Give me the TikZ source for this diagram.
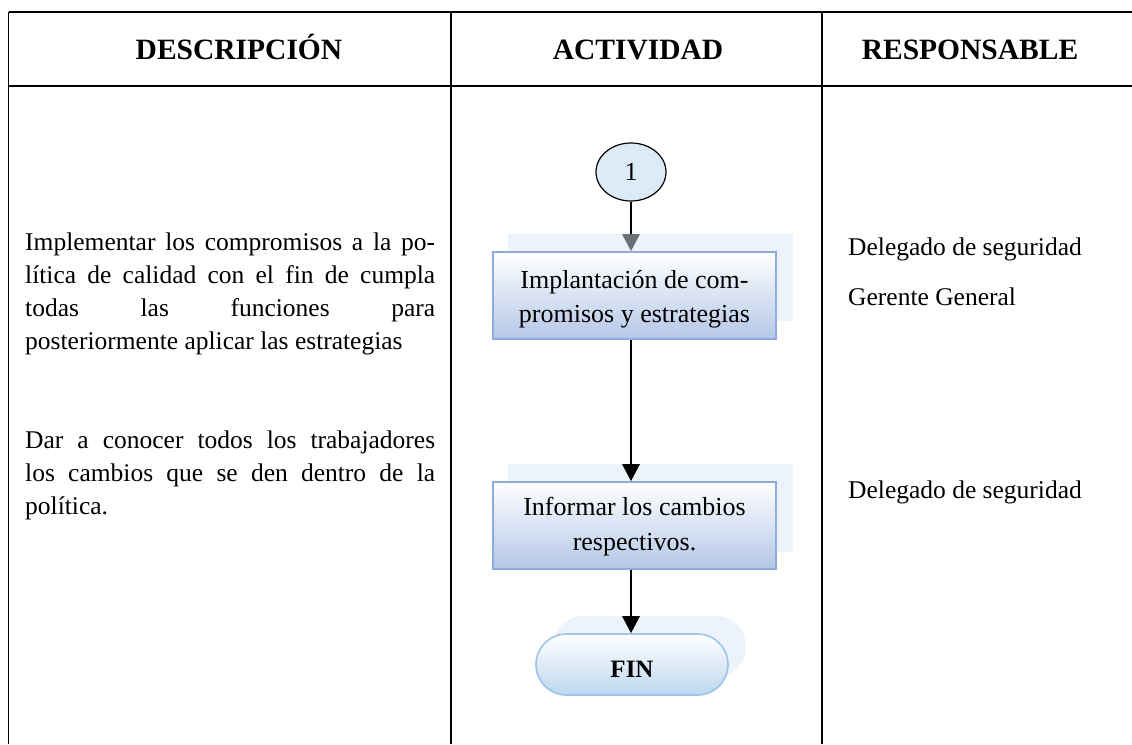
\documentclass[tikz,border=0pt]{standalone}
\usepackage{fontspec}
\setmainfont{Liberation Serif}
\usetikzlibrary{shapes.geometric,arrows.meta}
\definecolor{boxbot}{HTML}{B4C7E7}
\definecolor{boxline}{HTML}{8FAADC}
\definecolor{shadowc}{HTML}{EDF3FA}
\definecolor{circfill}{HTML}{DDEBF7}
\definecolor{finline}{HTML}{9DC3E6}
\definecolor{finbot}{HTML}{BDD7EE}
\definecolor{arrgray}{HTML}{6A7177}
\tikzset{
  tline/.style={line width=1.6pt},
  hdr/.style={font=\fontsize{29.5}{34}\selectfont\bfseries, inner sep=0pt, anchor=base},
  body/.style={font=\fontsize{25.5}{33}\selectfont, inner sep=0pt},
  para/.style={body, text width=410pt, align=justify, anchor=base west},
  actbox/.style={draw=boxline, line width=1.6pt, top color=white, bottom color=boxbot,
     minimum width=283pt, minimum height=87pt, inner sep=0pt},
  boxtext/.style={inner sep=0pt, align=center, font=\fontsize{26}{34.5}\selectfont},
  shadowbox/.style={fill=shadowc},
  flow/.style={line width=2.8pt, -{Triangle[length=17pt,width=17pt]}},
}
\begin{document}
\begin{tikzpicture}[x=1pt,y=-1pt]
\useasboundingbox (0,0) rectangle (1132,744);
% table
\draw[tline] (8.5,12) -- (1132,12);
\draw[tline] (8.5,86) -- (1132,86);
\draw[tline] (8.5,12) -- (8.5,744);
\draw[tline] (451,12) -- (451,744);
\draw[tline] (822,12) -- (822,744);
% headers
\node[hdr] (h1) at (239,59) {DESCRIPCIÓN};
\node[hdr] (h2) at (638,59) {ACTIVIDAD};
\node[hdr] (h3) at (970,59) {RESPONSABLE};
% description column
\node[para] (d1) at (25,250) {Implementar los compromisos a la po-\linebreak
lítica de calidad con el fin de cumpla\linebreak
todas las funciones para\linebreak
posteriormente aplicar las estrategias};
\node[para] (d2) at (25,448) {Dar a conocer todos los trabajadores\linebreak
los cambios que se den dentro de la\linebreak
política.};
% responsible column
\node[body, anchor=base west] (r1) at (848,255) {Delegado de seguridad};
\node[body, anchor=base west] (r2) at (848,305) {Gerente General};
\node[body, anchor=base west] (r3) at (848,498) {Delegado de seguridad};
% shadows
\fill[shadowbox] (508,234) rectangle (793,321);
\fill[shadowbox] (508,464) rectangle (793,552);
\fill[shadowbox, rounded corners=30.5pt] (553,616) rectangle (746,677);
% activity
\node[draw=black, line width=1.2pt, fill=circfill, ellipse, minimum width=70pt, minimum height=58pt,
      inner sep=0pt, font=\fontsize{26}{30}\selectfont] (c1) at (631,172) {1};
\node[actbox] (b1) at (634.5,295.5) {};
\node[boxtext] (t1) at ([yshift=-4pt]b1.center) {Implantación de com-\\promisos y estrategias};
\node[actbox] (b2) at (634.5,525.5) {};
\node[boxtext] (t2) at ([yshift=-1pt]b2.center) {Informar los cambios\\respectivos.};
\node[draw=finline, line width=1.6pt, top color=white, bottom color=finbot, rounded corners=30.5pt,
      minimum width=192pt, minimum height=61pt, inner sep=0pt] (fin) at (632,664.5) {};
\node[inner sep=0pt, font=\fontsize{25}{28}\selectfont\bfseries] (tf) at ([yshift=-5pt]fin.center) {FIN};
% connectors
\draw[line width=2.8pt, -{Triangle[length=17pt,width=17pt,color=arrgray]}] (c1.south) -- (c1.south |- b1.north);
\draw[flow] (c1.south |- b1.south) -- (c1.south |- b2.north);
\draw[flow] (c1.south |- b2.south) -- (c1.south |- fin.north);
\end{tikzpicture}
\end{document}
